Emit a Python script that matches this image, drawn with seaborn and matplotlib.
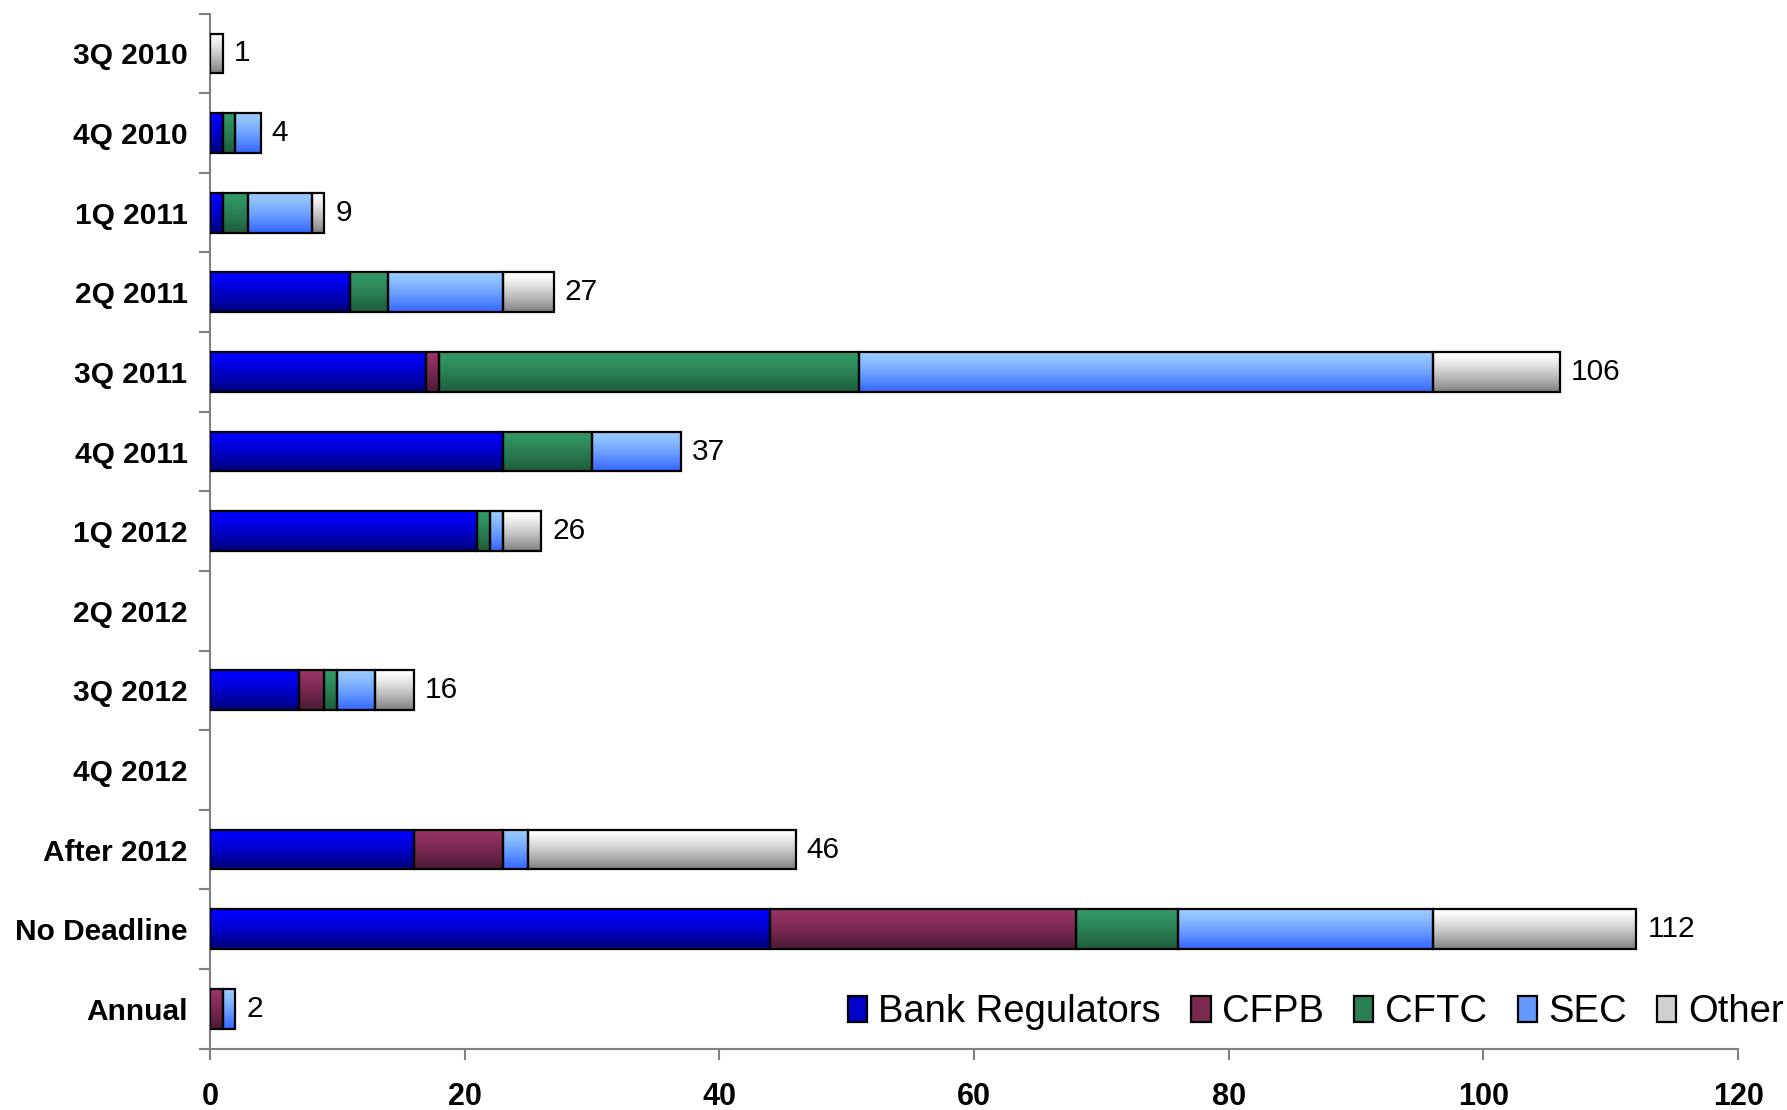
import numpy as np
import pandas as pd
import seaborn as sns
import matplotlib.pyplot as plt
from matplotlib.colors import LinearSegmentedColormap
from matplotlib.patches import Patch

# data
categories = ['3Q 2010', '4Q 2010', '1Q 2011', '2Q 2011', '3Q 2011', '4Q 2011',
              '1Q 2012', '2Q 2012', '3Q 2012', '4Q 2012', 'After 2012',
              'No Deadline', 'Annual']
bank_regulators = [0, 1, 1, 11, 17, 23, 21, 0, 7, 0, 16, 44, 0]
cfpb = [0, 0, 0, 0, 1, 0, 0, 0, 2, 0, 7, 24, 1]
cftc = [0, 1, 2, 3, 33, 7, 1, 0, 1, 0, 0, 8, 0]
sec = [0, 2, 5, 9, 45, 7, 1, 0, 3, 0, 2, 20, 1]
other = [1, 0, 1, 4, 10, 0, 3, 0, 3, 0, 21, 16, 0]

series_names = ['Bank Regulators', 'CFPB', 'CFTC', 'SEC', 'Other']
top_colors = ['#0000ff', '#993366', '#339966', '#99ccff', '#ffffff']
bottom_colors = ['#00007a', '#4a1a33', '#1e5c3c', '#3366ff', '#808080']
legend_colors = ['#0000c8', '#7a2850', '#2a8055', '#6699ff', '#d0d0d0']

sns.set_style('white')
plt.rcParams['font.family'] = ['Liberation Sans', 'DejaVu Sans']
plt.rcParams['text.color'] = 'black'
plt.rcParams['xtick.labelcolor'] = 'black'
plt.rcParams['ytick.labelcolor'] = 'black'

df = pd.DataFrame({'deadline': categories,
                   'Bank Regulators': bank_regulators,
                   'CFPB': cfpb, 'CFTC': cftc, 'SEC': sec, 'Other': other})

fig = plt.figure(figsize=(17.87, 11.10), dpi=100)
ax = fig.add_axes([0.1174, 0.0553, 0.8553, 0.9324])

#%% stacked bars with vertical gradient fill
left = np.zeros(len(categories))
grad = np.linspace(0, 1, 64).reshape(-1, 1) ** 1.3
for name, c_top, c_bot in zip(series_names, top_colors, bottom_colors):
    n_before = len(ax.patches)
    sns.barplot(data=df, x=name, y='deadline', order=categories, orient='y',
                width=0.5, errorbar=None, color=c_top, edgecolor='black',
                linewidth=1.6, left=left.copy(), ax=ax, zorder=3)
    cmap = LinearSegmentedColormap.from_list(name, [c_top, c_bot])
    for p in ax.patches[n_before:]:
        if p.get_width() <= 0:
            p.set_visible(False)
            continue
        p.set_facecolor('none')
        x0, y0 = p.get_x(), p.get_y()
        ax.imshow(grad, cmap=cmap, aspect='auto', zorder=2, interpolation='bilinear',
                  extent=(x0, x0 + p.get_width(), y0 + p.get_height(), y0))
    left += df[name].to_numpy()

# totals at bar ends
for i, t in enumerate(left):
    if t > 0:
        ax.annotate(f'{t:g}', xy=(t, i), xytext=(8, 0), textcoords='offset points',
                    va='center', ha='left', fontsize=21.5, color='black')

ax.set_xlim(0, 120)
ax.set_ylim(12.5, -0.5)
ax.set_xlabel('')
ax.set_ylabel('')

ax.set_xticks(np.arange(0, 121, 20))
ax.set_xticklabels([str(v) for v in range(0, 121, 20)], fontweight='bold', fontsize=22)
ax.set_yticks(range(len(categories)))
ax.set_yticklabels(categories, fontweight='bold', fontsize=21.5)
ax.set_yticks(np.arange(-0.5, len(categories), 1), minor=True)

ax.tick_params(axis='x', bottom=True, direction='out', length=8, width=1.5,
               color='#808080', pad=16)
ax.tick_params(axis='y', which='major', left=True, length=0, pad=16)
ax.tick_params(axis='y', which='minor', left=True, direction='out', length=8,
               width=1.5, color='#808080')

for s in ['top', 'right']:
    ax.spines[s].set_visible(False)
for s in ['left', 'bottom']:
    ax.spines[s].set_color('#808080')
    ax.spines[s].set_linewidth(1.5)

handles = [Patch(facecolor=c, edgecolor='black', linewidth=1.6) for c in legend_colors]
fig.legend(handles, series_names, loc='center right', bbox_to_anchor=(0.998, 0.088),
           ncol=5, frameon=False, fontsize=27.5, handlelength=0.5, handleheight=0.65,
           handletextpad=0.3, columnspacing=0.8, borderpad=0, borderaxespad=0)

fig.savefig('out.png', dpi=100)
